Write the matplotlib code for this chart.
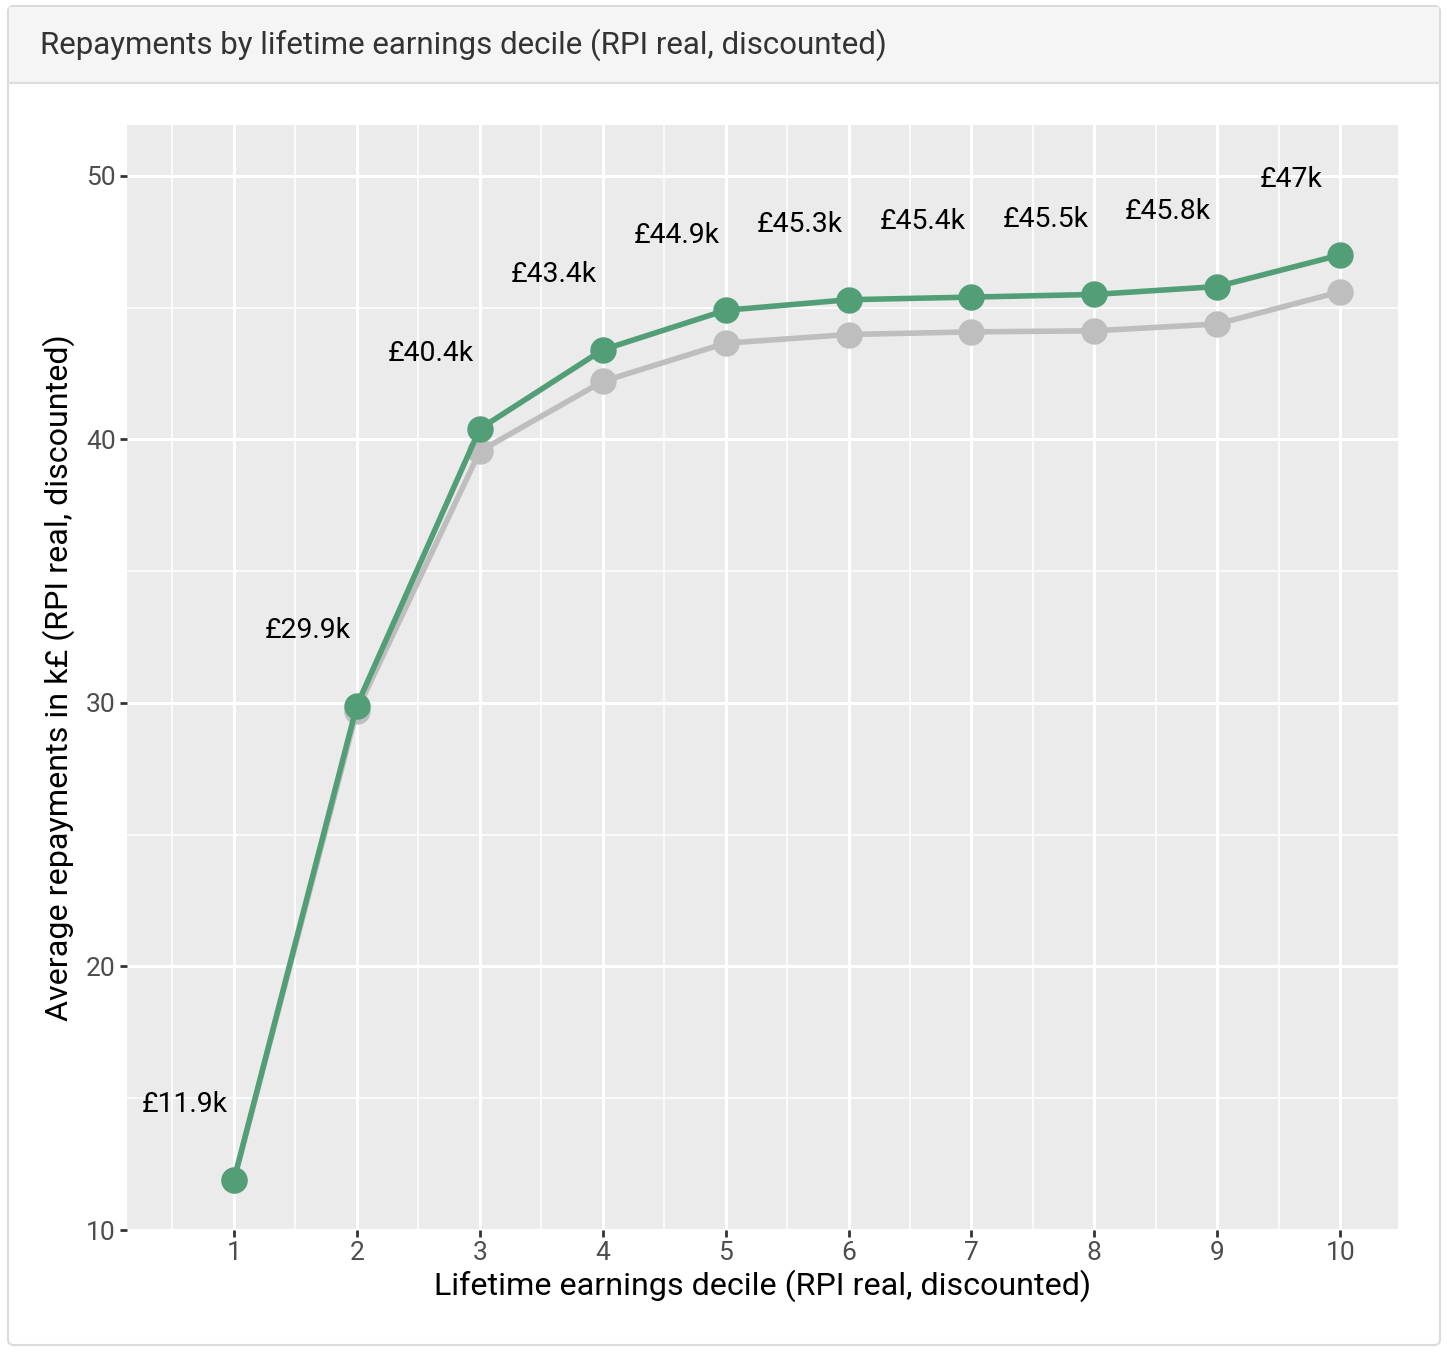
import matplotlib.pyplot as plt
from matplotlib.patches import FancyBboxPatch, Rectangle
from matplotlib.lines import Line2D

plt.rcParams['font.family'] = ['Roboto', 'DejaVu Sans']

# data
deciles = [1, 2, 3, 4, 5, 6, 7, 8, 9, 10]
repay_green = [11.9, 29.9, 40.4, 43.4, 44.9, 45.3, 45.4, 45.5, 45.8, 47.0]
repay_gray = [11.9, 29.7, 39.55, 42.2, 43.65, 43.98, 44.08, 44.12, 44.38, 45.6]
labels = ['£11.9k', '£29.9k', '£40.4k', '£43.4k', '£44.9k',
          '£45.3k', '£45.4k', '£45.5k', '£45.8k', '£47k']

W, H = 1450, 1354
fig = plt.figure(figsize=(W / 100, H / 100), dpi=100)

# card frame + header
card = FancyBboxPatch((8 / W, 1 - 1345 / H), 1432 / W, 1339 / H,
                      boxstyle='round,pad=0,rounding_size=0.004',
                      transform=fig.transFigure, facecolor='white',
                      edgecolor='#DADADA', linewidth=1.5, zorder=-3)
fig.patches.append(card)
header = Rectangle((9 / W, 1 - 83 / H), 1430 / W, 76 / H,
                   transform=fig.transFigure, facecolor='#F5F5F5',
                   edgecolor='none', zorder=-2)
fig.patches.append(header)
fig.lines.append(Line2D([9 / W, 1439 / W], [1 - 83 / H, 1 - 83 / H],
                        transform=fig.transFigure, color='#DDDDDD', lw=1.5,
                        zorder=-1))
fig.text(40 / W, 1 - 45 / H,
         'Repayments by lifetime earnings decile (RPI real, discounted)',
         fontsize=22.5, color='#333333', va='center', ha='left')

ax = fig.add_axes([127 / W, 1 - 1230 / H, 1271 / W, 1105 / H])
ax.set_zorder(2)
ax.set_facecolor('#EBEBEB')
for s in ax.spines.values():
    s.set_visible(False)

ax.set_xlim(0.13, 10.47)
ax.set_ylim(10.0, 51.93)
ax.set_xticks(deciles)
ax.set_xticks([d - 0.5 for d in deciles], minor=True)
ax.set_yticks([10, 20, 30, 40, 50])
ax.set_yticks([15, 25, 35, 45], minor=True)
ax.grid(which='major', color='white', lw=2.2)
ax.grid(which='minor', color='white', lw=1.1)
ax.set_axisbelow(True)
ax.tick_params(which='major', length=5, width=2, color='#333333',
               labelsize=19, labelcolor='#4D4D4D', pad=3)
ax.tick_params(which='minor', length=0)

ax.plot(deciles, repay_gray, color='#BEBEBE', lw=4, marker='o',
        markersize=18, zorder=3)
ax.plot(deciles, repay_green, color='#529E77', lw=4, marker='o',
        markersize=18, zorder=4)

# value labels sit above and a bit left of each green point
for d, v, lab in zip(deciles, repay_green, labels):
    ax.text(d - 0.4, v + 2.85, lab, ha='center', va='center',
            fontsize=20.4, color='black')

ax.set_xlabel('Lifetime earnings decile (RPI real, discounted)',
              fontsize=23.2, color='black', labelpad=3)
ax.set_ylabel('Average repayments in k£ (RPI real, discounted)',
              fontsize=23.2, color='black', labelpad=8)

fig.savefig('out.png', dpi=100)
